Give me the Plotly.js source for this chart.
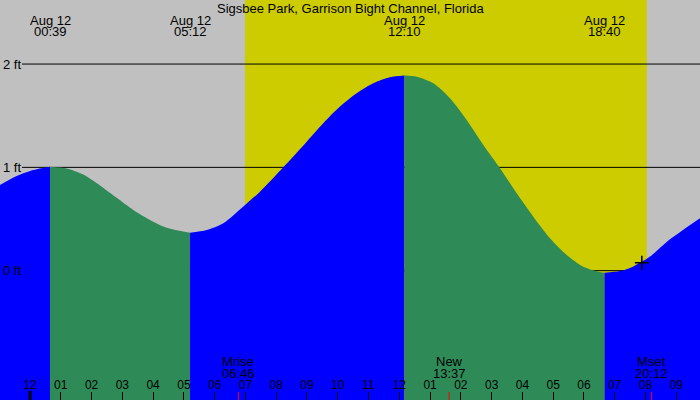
<!DOCTYPE html>
<html>
<head>
<meta charset="utf-8">
<script src="https://cdn.plot.ly/plotly-3.0.1.min.js"></script>
<style>
  html, body { margin: 0; padding: 0; background: #c0c0c0; }
  #tide { width: 700px; height: 400px; }
</style>
</head>
<body>
<div id="tide"></div>
<script>
// hours from midnight Aug 12, tide height in ft
const tideHours = [-0.975, -0.432, 0.107, 0.65, 1.192, 1.732, 2.274, 2.817, 3.356, 3.899, 4.441, 5.2,
                   5.741, 6.281, 6.986, 7.473, 8.23, 8.991, 9.53, 10.073, 10.615, 11.155, 11.697, 12.167,
                   12.565, 13.104, 13.647, 14.189, 14.729, 15.272, 15.814, 16.354, 16.897, 17.439, 17.978, 18.52, 18.667,
                   19.17, 19.59, 20.145, 20.697, 21.217, 21.77];
const tideFeet = [0.83, 0.917, 0.975, 1.007, 0.99, 0.93, 0.825, 0.705, 0.588, 0.491, 0.416, 0.368,
                  0.394, 0.459, 0.636, 0.765, 1.001, 1.249, 1.427, 1.588, 1.717, 1.814, 1.872, 1.888,
                  1.878, 1.814, 1.669, 1.459, 1.217, 0.991, 0.749, 0.523, 0.314, 0.152, 0.039, -0.012, -0.02,
                  -0.004, 0.039, 0.136, 0.281, 0.394, 0.507];

// high / low tides
const extHours = [0.65, 5.2, 12.167, 18.667];
const extDates = ["Aug 12", "Aug 12", "Aug 12", "Aug 12"];
const extTimes = ["00:39", "05:12", "12:10", "18:40"];

// daylight
const sunrise = 6.986;
const sunset = 20.04;

// moon events
const moonHours = [6.767, 13.617, 20.2];
const moonNames = ["Mrise", "New", "Mset"];
const moonTimes = ["06:46", "13:37", "20:12"];

// hour ticks
const hourTicks = [-1, 0, 1, 2, 3, 4, 5, 6, 7, 8, 9, 10, 11, 12, 13, 14, 15, 16, 17, 18, 19, 20, 21];
const hourLabels = ["11", "12", "01", "02", "03", "04", "05", "06", "07", "08", "09", "10", "11",
                    "12", "01", "02", "03", "04", "05", "06", "07", "08", "09"];

const feetLevels = [0, 1, 2];
const nowPoint = {h: 19.88, ft: 0.077};

const xRange = [-0.975, 21.77];
const yRange = [-1.252, 2.62];
const font = "Liberation Sans, Arial, sans-serif";

// split the curve at each high/low, blue when rising, green when falling
let cuts = [0];
extHours.forEach(h => cuts.push(tideHours.indexOf(h)));
cuts.push(tideHours.length - 1);

const data = [];
for (let i = 0; i < cuts.length - 1; i++) {
    let xs = tideHours.slice(cuts[i], cuts[i + 1] + 1);
    let ys = tideFeet.slice(cuts[i], cuts[i + 1] + 1);
    let rising = ys[ys.length - 1] > ys[0];
    data.push({
        x: xs, y: xs.map(() => yRange[0]),
        mode: "lines", line: {width: 0}, hoverinfo: "skip", showlegend: false
    });
    data.push({
        x: xs, y: ys,
        mode: "lines", line: {width: 0, shape: "spline", smoothing: 0.8},
        fill: "tonexty", fillcolor: rising ? "#0000ff" : "#2e8b57",
        hoverinfo: "skip", showlegend: false
    });
}
data.push({
    x: [nowPoint.h], y: [nowPoint.ft],
    mode: "markers",
    marker: {symbol: "cross-thin", size: 10, line: {color: "#000", width: 1.5}},
    showlegend: false, hoverinfo: "skip"
});

const shapes = [{
    type: "rect", xref: "x", yref: "paper", x0: sunrise, x1: sunset, y0: 0, y1: 1,
    fillcolor: "#cccc00", line: {width: 0}, layer: "below"
}];
feetLevels.forEach(f => shapes.push({
    type: "line", xref: "paper", yref: "y", x0: 22 / 700, x1: 1, y0: f, y1: f,
    line: {color: "#000", width: 1}, layer: "below"
}));
// thick midnight tick
shapes.push({
    type: "line", xref: "x", yref: "paper", x0: 0, x1: 0, y0: 0, y1: 9 / 400,
    line: {color: "#000", width: 3}, layer: "above"
});
moonHours.forEach(h => shapes.push({
    type: "line", xref: "x", yref: "paper", x0: h, x1: h, y0: 0, y1: 8 / 400,
    line: {color: "#ff0000", width: 1}, layer: "above"
}));

const txt = {family: font, size: 13, color: "#000"};
const annotations = [{
    text: "Sigsbee Park, Garrison Bight Channel, Florida",
    xref: "paper", yref: "paper", x: 0.5, y: 1 - 8 / 400,
    showarrow: false, font: txt, yanchor: "middle"
}];
extHours.forEach((h, i) => {
    annotations.push({text: extDates[i], x: h, xref: "x", yref: "paper", y: 1 - 20 / 400,
        showarrow: false, font: txt, yanchor: "middle"});
    annotations.push({text: extTimes[i], x: h, xref: "x", yref: "paper", y: 1 - 32 / 400,
        showarrow: false, font: txt, yanchor: "middle"});
});
moonHours.forEach((h, i) => {
    annotations.push({text: moonNames[i], x: h, xref: "x", yref: "paper", y: 1 - 361.5 / 400,
        showarrow: false, font: txt, yanchor: "middle"});
    annotations.push({text: moonTimes[i], x: h, xref: "x", yref: "paper", y: 1 - 373.5 / 400,
        showarrow: false, font: txt, yanchor: "middle"});
});
feetLevels.forEach(f => annotations.push({
    text: f + " ft", xref: "paper", yref: "y", x: 0, y: f, xanchor: "left", xshift: 1,
    yanchor: "middle", showarrow: false, font: txt
}));

const layout = {
    width: 700, height: 400,
    margin: {l: 0, r: 0, t: 0, b: 0, pad: 0},
    paper_bgcolor: "#c0c0c0", plot_bgcolor: "#c0c0c0",
    showlegend: false,
    xaxis: {
        range: xRange, showgrid: false, zeroline: false, showline: false,
        tickmode: "array", tickvals: hourTicks, ticktext: hourLabels,
        ticks: "inside", ticklen: 8, tickwidth: 1, tickcolor: "#000",
        ticklabelposition: "inside", tickfont: {family: font, size: 12, color: "#000"},
        fixedrange: true
    },
    yaxis: {range: yRange, visible: false, fixedrange: true},
    shapes: shapes,
    annotations: annotations
};

Plotly.newPlot("tide", data, layout, {displayModeBar: false, staticPlot: true});
</script>
</body>
</html>
